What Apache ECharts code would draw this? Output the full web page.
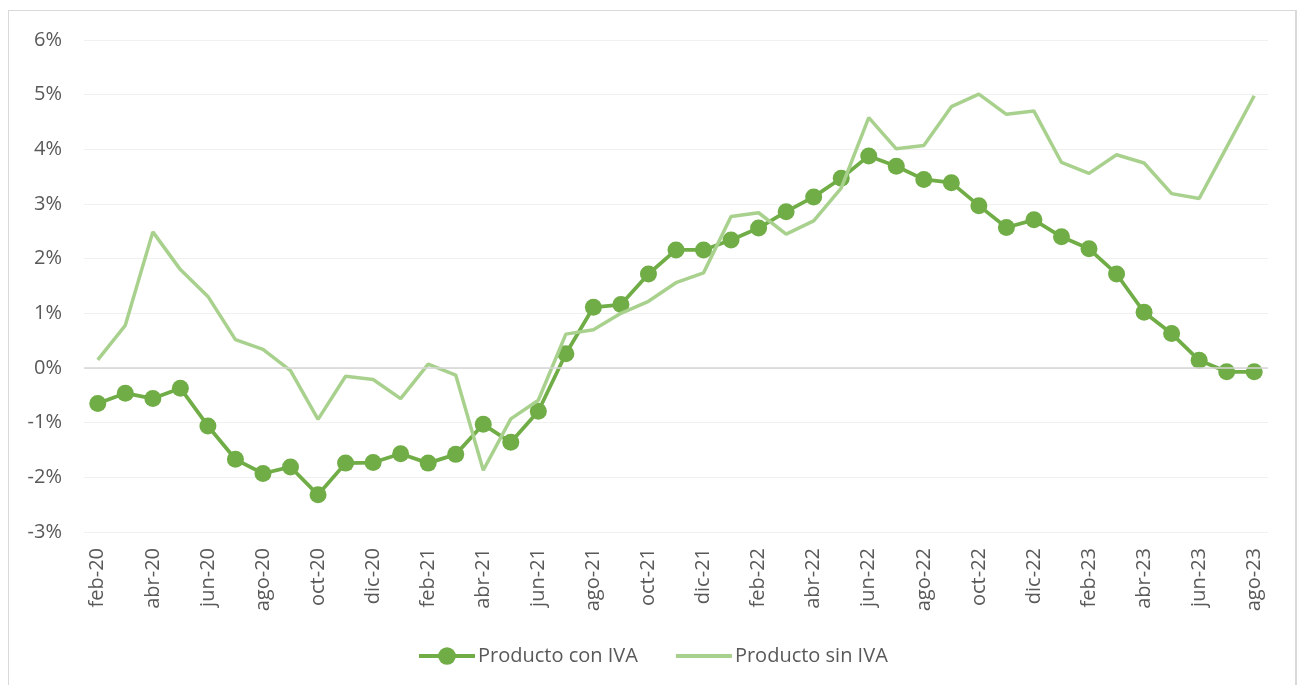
<!DOCTYPE html>
<html>
<head>
<meta charset="utf-8">
<title>Producto con IVA / Producto sin IVA</title>
<script src="https://cdn.jsdelivr.net/npm/echarts@6/dist/echarts.min.js"></script>
<style>
  html, body { margin: 0; padding: 0; background: #ffffff; overflow: hidden; }
  #chart { position: absolute; left: 0; top: 0; width: 1298px; height: 685px; }
  #frame { position: absolute; left: 8px; top: 10px; width: 1286px; height: 700px;
           border: 1px solid #d9d9d9; border-right-width: 2px; pointer-events: none; }
</style>
</head>
<body>
<div id="chart"></div>
<div id="frame"></div>
<script>
// Monthly categories, feb-20 .. ago-23
const categories = [
  'feb-20','mar-20','abr-20','may-20','jun-20','jul-20','ago-20','sep-20','oct-20','nov-20','dic-20',
  'ene-21','feb-21','mar-21','abr-21','may-21','jun-21','jul-21','ago-21','sep-21','oct-21','nov-21','dic-21',
  'ene-22','feb-22','mar-22','abr-22','may-22','jun-22','jul-22','ago-22','sep-22','oct-22','nov-22','dic-22',
  'ene-23','feb-23','mar-23','abr-23','may-23','jun-23','jul-23','ago-23'
];

// Year-on-year change, in percent
const conIVA = [
  -0.65, -0.46, -0.56, -0.37, -1.06, -1.67, -1.93, -1.81, -2.32, -1.74, -1.73,
  -1.57, -1.74, -1.58, -1.03, -1.36, -0.79, 0.26, 1.11, 1.16, 1.72, 2.16, 2.16,
  2.34, 2.56, 2.86, 3.13, 3.47, 3.88, 3.69, 3.45, 3.39, 2.97, 2.57, 2.71,
  2.40, 2.18, 1.72, 1.02, 0.63, 0.14, -0.07, -0.07
];

const sinIVA = [
  0.15, 0.78, 2.49, 1.80, 1.31, 0.52, 0.34, -0.05, -0.94, -0.15, -0.21,
  -0.56, 0.07, -0.13, -1.87, -0.93, -0.59, 0.62, 0.70, 1.00, 1.22, 1.56, 1.74,
  2.77, 2.84, 2.45, 2.69, 3.29, 4.58, 4.01, 4.07, 4.78, 5.01, 4.64, 4.70,
  3.76, 3.56, 3.90, 3.75, 3.19, 3.10, 4.04, 4.98
];

const seriesNames = ['Producto con IVA', 'Producto sin IVA'];

const FONT = '"Open Sans", "Noto Sans", sans-serif';
const TEXT = '#595959';

const chart = echarts.init(document.getElementById('chart'), null, { renderer: 'canvas' });

chart.setOption({
  animation: false,
  backgroundColor: '#ffffff',
  textStyle: { fontFamily: FONT, color: TEXT },
  grid: { left: 84, right: 30, top: 40, bottom: 153, containLabel: false },
  legend: {
    left: 412,
    top: 641,
    itemWidth: 56,
    itemHeight: 22,
    itemGap: 36,
    textStyle: { fontFamily: FONT, fontSize: 20, color: TEXT, padding: [0, 0, 0, -2] },
    data: [
      { name: seriesNames[0], lineStyle: { width: 4 } },
      // plain line key, no marker
      { name: seriesNames[1], itemStyle: { opacity: 0 }, lineStyle: { width: 4 } }
    ]
  },
  xAxis: {
    type: 'category',
    data: categories,
    boundaryGap: true,
    axisLine: { show: false },
    axisTick: { show: false },
    axisLabel: {
      interval: 1,
      rotate: 90,
      margin: 16,
      fontFamily: FONT,
      fontSize: 20,
      color: TEXT
    },
    splitLine: { show: false }
  },
  yAxis: {
    type: 'value',
    min: -3,
    max: 6,
    interval: 1,
    axisLine: { show: false },
    axisTick: { show: false },
    axisLabel: {
      formatter: '{value}%',
      margin: 22,
      fontFamily: FONT,
      fontSize: 20,
      color: TEXT
    },
    splitLine: { lineStyle: { color: '#f0f0f0', width: 1 } }
  },
  series: [
    {
      name: seriesNames[0],
      type: 'line',
      data: conIVA,
      symbol: 'circle',
      symbolSize: 17,
      showSymbol: true,
      lineStyle: { color: '#70AD47', width: 3.75 },
      itemStyle: { color: '#70AD47' },
      z: 2,
      markLine: {
        silent: true,
        symbol: ['none', 'none'],
        label: { show: false },
        lineStyle: { color: '#d4d4d4', width: 1.5, type: 'solid' },
        data: [{ yAxis: 0 }]
      }
    },
    {
      name: seriesNames[1],
      type: 'line',
      data: sinIVA,
      symbol: 'none',
      showSymbol: false,
      lineStyle: { color: '#A9D18E', width: 3.5 },
      itemStyle: { color: '#A9D18E' },
      z: 3
    }
  ]
});
</script>
</body>
</html>
